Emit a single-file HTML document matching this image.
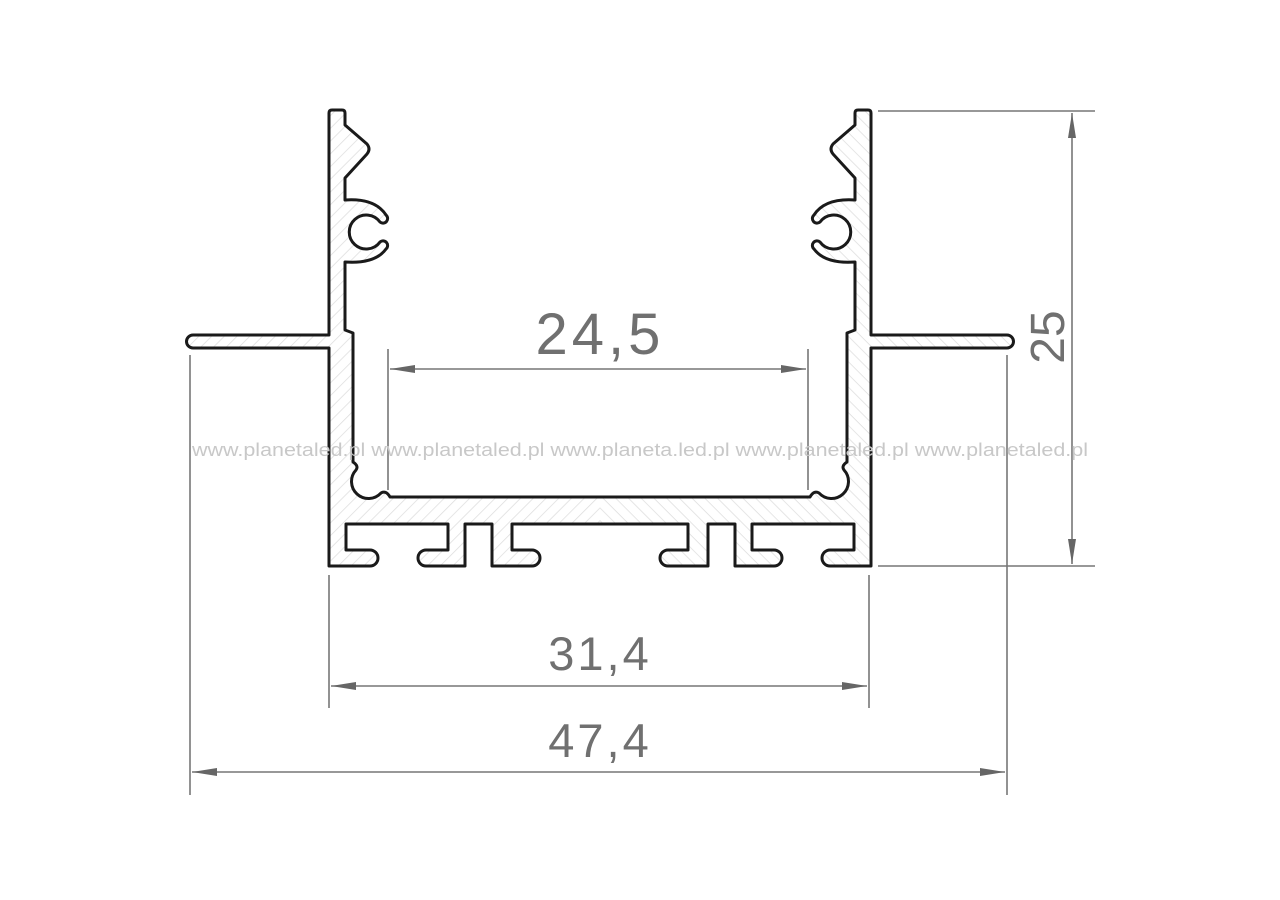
<!DOCTYPE html>
<html><head><meta charset="utf-8"><style>html,body{margin:0;padding:0;background:#fff}svg{display:block}</style></head>
<body>
<svg width="1280" height="900" viewBox="0 0 1280 900" xmlns="http://www.w3.org/2000/svg">
<defs>
<pattern id="h" width="9" height="9" patternUnits="userSpaceOnUse" patternTransform="rotate(45)">
<rect width="9" height="9" fill="#fff"/><line x1="0" y1="0" x2="0" y2="9" stroke="#ddd" stroke-width="1.5"/>
</pattern>
<g id="half">
<path d="M600,497 L390,497 Q386,490 381,493 A15,15 0 1 1 356,470 Q359,466 353,462 L353,333 L345,330 L345,262 Q375,264 386,249 A4,4 0 0 0 380,242 A17,17 0 1 1 380,222 A4,4 0 0 0 386,215 Q375,198 345,200 L345,178 L367,154 Q371,149 367,144 L345,125 L345,113 Q345,110 342,110 L332,110 Q329,110 329,113 L329,335 L193,335 A6.5,6.5 0 0 0 193,348 L329,348 L329,566 L370,566 A8,8 0 0 0 370,550 L346,550 L346,524 L448,524 L448,550 L426,550 A8,8 0 0 0 426,566 L465,566 L465,524 L492,524 L492,566 L532,566 A8,8 0 0 0 532,550 L512,550 L512,524 L600,524" fill="url(#h)" stroke="#1a1a1a" stroke-width="3" stroke-linejoin="round"/>
</g>
</defs>
<use href="#half"/>
<use href="#half" transform="translate(1200,0) scale(-1,1)"/>
<g stroke="#777" stroke-width="1.6" fill="none">
<line x1="388" y1="349" x2="388" y2="490"/><line x1="808" y1="349" x2="808" y2="490"/>
<line x1="390" y1="369" x2="806" y2="369"/>
<line x1="329" y1="575" x2="329" y2="708"/><line x1="869" y1="575" x2="869" y2="708"/>
<line x1="331" y1="686" x2="867" y2="686"/>
<line x1="190" y1="355" x2="190" y2="795"/><line x1="1007" y1="355" x2="1007" y2="795"/>
<line x1="192" y1="772" x2="1005" y2="772"/>
<line x1="878" y1="111" x2="1095" y2="111"/><line x1="878" y1="566" x2="1095" y2="566"/>
<line x1="1072" y1="113" x2="1072" y2="564"/>
</g>
<g fill="#666">
<polygon points="390,369 415,365 415,373"/><polygon points="806,369 781,365 781,373"/>
<polygon points="331,686 356,682 356,690"/><polygon points="867,686 842,682 842,690"/>
<polygon points="192,772 217,768 217,776"/><polygon points="1005,772 980,768 980,776"/>
<polygon points="1072,113 1068,138 1076,138"/><polygon points="1072,564 1068,539 1076,539"/>
</g>
<g font-family="Liberation Sans, sans-serif" fill="#707070" text-anchor="middle">
<text x="600" y="354" font-size="58" letter-spacing="4">24,5</text>
<text x="600" y="670" font-size="47" letter-spacing="3">31,4</text>
<text x="600" y="757" font-size="47" letter-spacing="3">47,4</text>
<text x="0" y="0" font-size="48" transform="translate(1064,337) rotate(-90)">25</text>
</g>
<text x="192" y="456" font-family="Liberation Sans, sans-serif" font-size="18" fill="#c8c8c8" textLength="896" lengthAdjust="spacingAndGlyphs">www.planetaled.pl www.planetaled.pl www.planeta.led.pl www.planetaled.pl www.planetaled.pl</text>
</svg>
</body></html>
